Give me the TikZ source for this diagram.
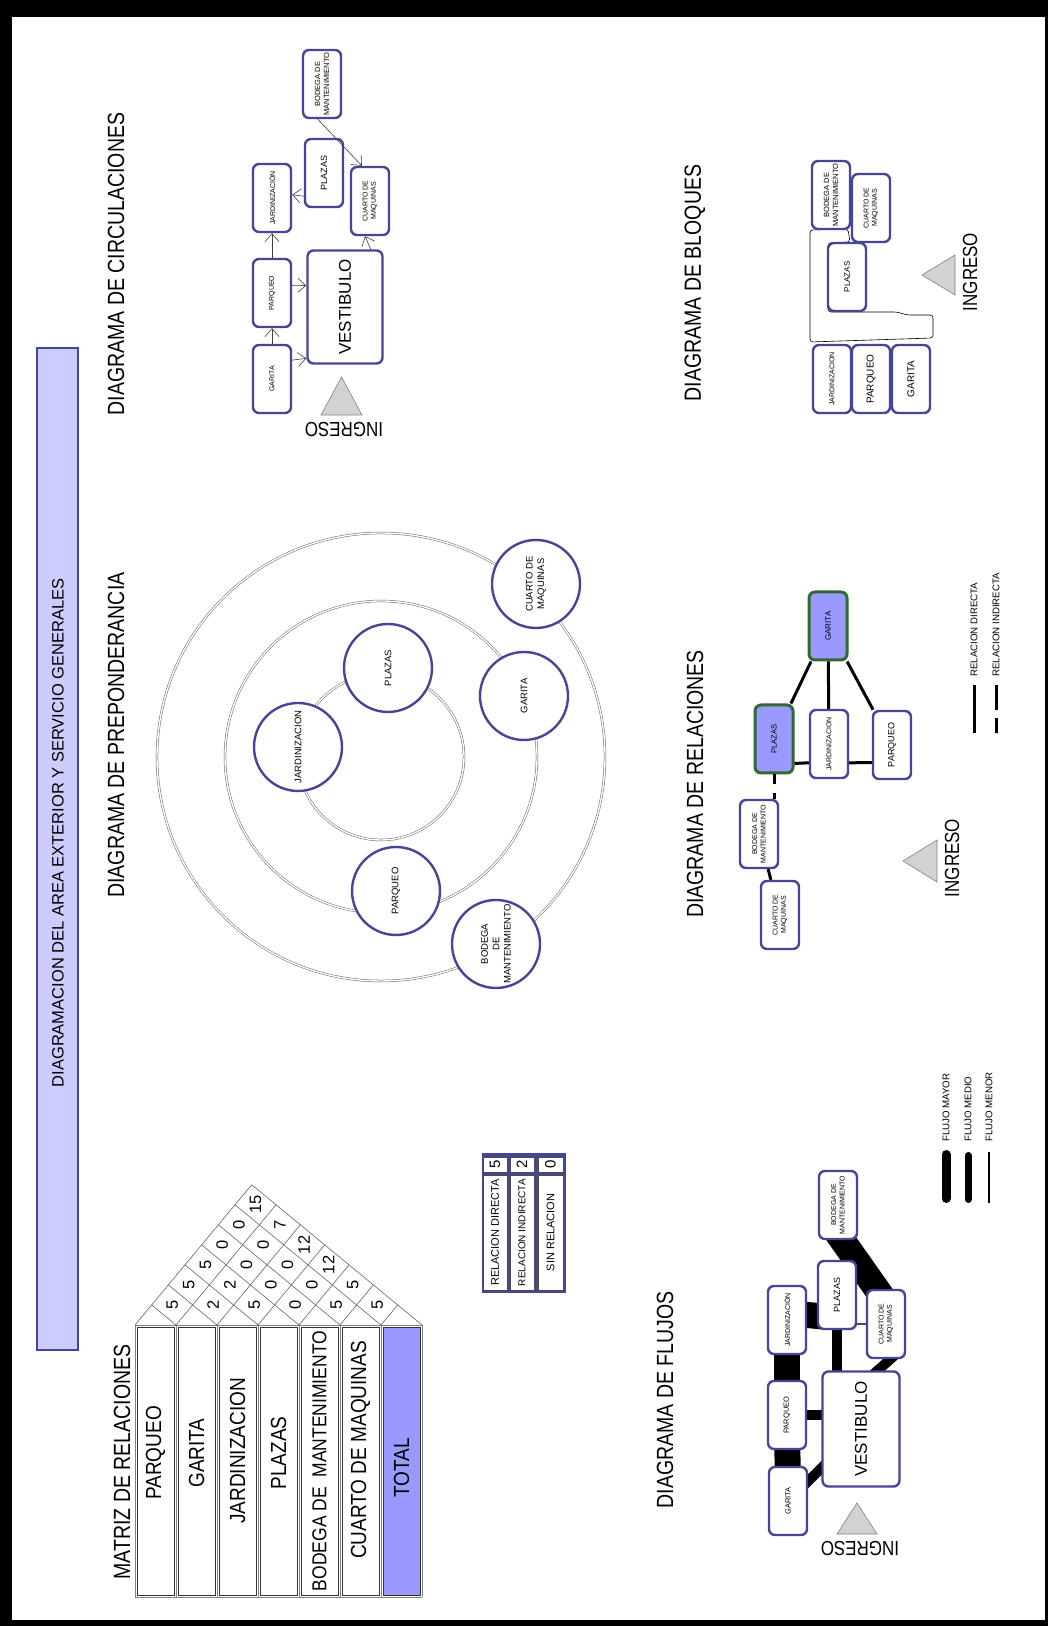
\documentclass[tikz,border=0pt]{standalone}
\usepackage{fontspec}
\setmainfont{Liberation Sans}
\usetikzlibrary{arrows.meta,calc}

\definecolor{azulnodo}{RGB}{70,70,150}
\definecolor{lavanda}{RGB}{204,204,255}
\definecolor{lila}{RGB}{153,153,255}
\definecolor{verde}{RGB}{50,105,50}
\definecolor{grisclaro}{RGB}{210,210,210}

\newcommand{\tam}[1]{\fontsize{#1}{1.2\dimexpr #1pt\relax}\selectfont}

\pgfdeclarelayer{fondo}
\pgfdeclarelayer{bandas}
\pgfsetlayers{fondo,bandas,main}

\begin{document}
\begin{tikzpicture}[x=1pt, y=1pt,
    caja/.style={rectangle, rounded corners=6pt, draw=azulnodo, line width=2.4pt, fill=white,
      minimum width=68, minimum height=38, inner sep=1pt, align=center, font=\tam{7}},
    llena/.style={caja, fill=lila, draw=verde, line width=3pt},
    circulo/.style={circle, draw=azulnodo, line width=2.4pt, fill=white, minimum size=88,
      inner sep=0pt, align=center, font=\tam{9.5}},
    anillo/.style={draw=gray!80!black, line width=0.5pt, double=white, double distance=1.4pt},
    encab/.style={font=\tam{19.5}, yscale=1.2},
    fila/.style={font=\tam{19}, yscale=1.15},
    num/.style={font=\tam{16.5}, inner sep=0pt},
    celda/.style={rectangle, draw=black!70, line width=0.4pt, fill=white, minimum height=24, inner sep=0pt},
    flecha/.style={draw=black!75, line width=0.6pt, -{Straight Barb[length=8pt,width=14pt]}},
    rel/.style={line width=3pt},
    relind/.style={line width=3pt, dash pattern=on 10pt off 9pt},
    mayor/.style={line width=26pt, shorten <=-12pt, shorten >=-12pt},
    medio/.style={line width=10pt, shorten <=-8pt, shorten >=-8pt},
    menor/.style={line width=1.2pt, draw=black!70},
    ingreso/.style={fill=grisclaro, draw=gray, line width=0.6pt},
    rejilla/.style={draw=black!60, line width=0.6pt},
    leyenda/.style={font=\tam{9.7}, anchor=west, inner sep=0pt}
  ]
\useasboundingbox (0,0) rectangle (1048,1626);
% marco
\begin{pgfonlayer}{fondo}
  \fill[black] (0,0) rectangle (1048,1626);
  \fill[white] (12,6) rectangle (1045,1609);
\end{pgfonlayer}

% la lamina va girada
\begin{scope}[shift={(1048,0)}, rotate=90, transform shape]

% Titulo
\node[draw=azulnodo, line width=2.5pt, fill=lavanda, minimum width=1002, minimum height=41] (barra) at (777,990.5) {};
\node[font=\tam{16.5}] (titulo) at (793,990) {DIAGRAMACION DEL AREA EXTERIOR Y SERVICIO GENERALES};

\node[encab] (hMatriz) at (164,926) {MATRIZ DE RELACIONES};
\node[encab] (hPrep) at (891,932) {DIAGRAMA DE PREPONDERANCIA};
\node[encab] (hCirc) at (1362,932) {DIAGRAMA DE CIRCULACIONES};
\node[encab] (hFlujo) at (226,383) {DIAGRAMA DE FLUJOS};
\node[encab] (hRel) at (842,353) {DIAGRAMA DE RELACIONES};
\node[encab] (hBloq) at (1343,353) {DIAGRAMA DE BLOQUES};

% Matriz de relaciones
\foreach \b in {0,...,7}
  \draw[gray] (29,{913-41*\b}) -- (301,{913-41*\b});
\draw[gray] (29,626) -- (29,913) (301,626) -- (301,913);
\foreach \b in {0,...,6}
  \draw[black!80, line width=0.5pt] (31,{913-41*\b-2}) rectangle (299,{913-41*(\b+1)+2});
\filldraw[fill=lila, draw=black!80, line width=0.5pt] (31,628) rectangle (299,665);
\node[fila] (mPar) at (173,892.5) {PARQUEO};
\node[fila] (mGar) at (173,851.5) {GARITA};
\node[fila] (mJar) at (175,810.5) {JARDINIZACION};
\node[fila] (mPla) at (173,769.5) {PLAZAS};
\node[fila, font=\tam{17.5}] (mBod) at (165,728.5) {BODEGA DE\ \ MANTENIMIENTO};
\node[fila] (mCua) at (176,687.5) {CUARTO DE MAQUINAS};
\node[fila] (mTot) at (158,646.5) {TOTAL};

\foreach \b in {0,...,7}{
  \pgfmathsetmacro{\yb}{913-41*\b}
  \pgfmathsetmacro{\tu}{(\yb-626)/2.046}
  \pgfmathsetmacro{\tl}{(913-\yb)/2.046}
  \draw[rejilla] (301,\yb) -- ++({\tu},{-0.832*\tu});
  \draw[rejilla] (301,\yb) -- ++({\tl},{1.214*\tl});
}
\foreach \i/\j/\v in {0/1/5,1/2/2,2/3/5,3/4/0,4/5/5,5/6/5,
                      0/2/5,1/3/2,2/4/0,3/5/0,4/6/5,
                      0/3/5,1/4/0,2/5/0,3/6/12,
                      0/4/0,1/5/0,2/6/12,
                      0/5/0,1/6/7,
                      0/6/15}
  \node[num] (v\i\j) at ({301+20.04*(\j-\i)},{892.5-41*\i-16.68*(\j-\i)}) {\v};

% valores
\fill[azulnodo] (333,482) rectangle (473,566);
\node[celda, minimum width=115, font=\tam{11}] (lDir) at (393.5,553) {RELACION DIRECTA};
\node[celda, minimum width=115, font=\tam{10}] (lInd) at (393.5,526) {RELACION INDIRECTA};
\node[celda, minimum width=115, minimum height=25, font=\tam{11}] (lSin) at (393.5,497.5) {SIN RELACION};
\node[celda, minimum width=15, font=\tam{15}] (lv1) at (461.5,553) {5};
\node[celda, minimum width=15, font=\tam{15}] (lv2) at (461.5,526) {2};
\node[celda, minimum width=15, minimum height=25, font=\tam{15}] (lv3) at (461.5,497.5) {0};

% Diagrama de preponderancia
\foreach \r in {224,156,83}
  \draw[anillo] (869,667) circle[radius=\r pt];
\node[circulo] (jarP) at (879,750) {JARDINIZACION};
\node[circulo] (plaP) at (958,660) {PLAZAS};
\node[circulo] (garP) at (930,524) {GARITA};
\node[circulo] (cuaP) at (1042,512) {CUARTO DE\\MAQUINAS};
\node[circulo] (parP) at (735,652) {PARQUEO};
\node[circulo] (bodP) at (682,552) {BODEGA\\DE\\MANTENIMIENTO};

% Diagrama de circulaciones
\node[caja] (garC) at (1247,776) {GARITA};
\node[caja] (parC) at (1333,776) {PARQUEO};
\node[caja] (jarC) at (1428,776) {JARDINIZACIÓN};
\node[caja, font=\tam{9}] (plaC) at (1453,724) {PLAZAS};
\node[caja, font=\tam{7.5}] (bodC) at (1542,726) {BODEGA DE\\MANTENIMIENTO};
\node[caja] (cuaC) at (1425,678) {CUARTO DE\\MAQUINAS};
\node[caja, minimum width=113, minimum height=75, font=\tam{17}] (vesC) at (1319,703) {VESTIBULO};
\draw[flecha] (garC) -- (parC);
\draw[flecha] (parC) -- (jarC);
\draw[flecha] (plaC.139) -- (jarC.-81);
\draw[flecha] (garC.-47) -- (vesC.143);
\draw[flecha] (parC.-69) -- (vesC.61);
\draw[flecha] (bodC.173) -- (cuaC.13);
\draw[flecha] (vesC.-24) -- (cuaC.172);
\filldraw[ingreso] (1211,686) -- (1211,727) -- (1249,706.5) -- cycle;
\node[font=\tam{17}, rotate=90, yscale=1.2] (ingC) at (1196,704) {INGRESO};

% Diagrama de bloques
\draw[line width=0.6pt, rounded corners=3pt] (1284,238) -- (1396,238) -- (1397,200) -- (1384,198)
  -- (1383,220) -- (1314,220) -- (1314,151) -- (1311,141) -- (1311,115) -- (1288,115) -- cycle;
\node[caja, font=\tam{7.5}] (bodB) at (1431,217) {BODEGA DE\\MANTENIMIENTO};
\node[caja] (cuaB) at (1418,177) {CUARTO DE\\MAQUINAS};
\node[caja, font=\tam{8}] (plaB) at (1349,201) {PLAZAS};
\node[caja] (jarB) at (1247,216) {JARDINIZACION};
\node[caja, font=\tam{10}] (parB) at (1247,177) {PARQUEO};
\node[caja, font=\tam{10}] (garB) at (1247,137) {GARITA};
\filldraw[ingreso] (1331,93) -- (1371,93) -- (1351,126) -- cycle;
\node[font=\tam{17}, yscale=1.2] (ingB) at (1354,78) {INGRESO};

% Diagrama de relaciones
\node[llena, font=\tam{8}] (garR) at (1000,220) {GARITA};
\node[llena, font=\tam{7.5}] (plaR) at (887,274) {PLAZAS};
\node[caja] (jarR) at (882,219) {JARDINIZACION};
\node[caja, font=\tam{9}] (parR) at (881,156) {PARQUEO};
\node[caja] (bodR) at (792,289) {BODEGA DE\\MANTENIMIENTO};
\node[caja] (cuaR) at (711,268) {CUARTO DE\\MAQUINAS};
\draw[rel] (garR) -- (plaR);
\draw[rel] (garR) -- (jarR);
\draw[rel] (garR) -- (parR);
\draw[rel] (plaR.-140) -- (jarR.133);
\draw[rel] (jarR.-133) -- (parR.131);
\draw[relind] (plaR.west) -- (plaR.west -| bodR.east);
\draw[rel] (bodR) -- (cuaR);
\filldraw[ingreso] (744,111) -- (786,111) -- (765,145) -- cycle;
\node[font=\tam{17}, yscale=1.2] (ingR) at (768,96) {INGRESO};
\node[leyenda] (leyDir) at (949,74) {RELACION DIRECTA};
\node[leyenda] (leyInd) at (949,52) {RELACION INDIRECTA};
\draw[rel] (leyDir.west) ++(-8,0) -- ++(-48,0);
\draw[rel, dash pattern=on 25pt off 8pt on 15pt off 0pt] (leyInd.west) ++(-8,0) -- ++(-48,0);

% Diagrama de flujos
\node[caja] (bodF) at (421,210) {BODEGA DE\\MANTENIMIENTO};
\node[caja, font=\tam{9}] (plaF) at (331,211) {PLAZAS};
\node[caja] (jarF) at (306,261) {JARDINIZACIÓN};
\node[caja] (cuaF) at (302,162) {CUARTO DE\\MAQUINAS};
\node[caja, font=\tam{7.5}] (parF) at (211,261) {PARQUEO};
\node[caja, minimum width=115, minimum height=77, font=\tam{17}] (vesF) at (197,187) {VESTIBULO};
\node[caja, font=\tam{7.5}] (garF) at (125,260) {GARITA};
\begin{pgfonlayer}{bandas}
  \draw[mayor] (garF) -- (parF);
  \draw[mayor] (parF) -- (jarF);
  \draw[mayor] (jarF.-76) -- (plaF.136);
  \draw[mayor] (bodF.187) -- (cuaF.15);
  \draw[medio] (plaF.west) -- (vesF.east |- plaF.west);
  \draw[medio] (parF.south) -- (vesF.north -| parF.south);
  \draw[medio] (garF) -- (vesF);
  \draw[medio] (vesF.-16) -- (cuaF.-173);
  \draw[menor] (cuaF.north) -- (cuaF.north |- plaF.south);
\end{pgfonlayer}
\filldraw[ingreso] (92,171) -- (92,211) -- (123,191) -- cycle;
\node[font=\tam{17}, rotate=90, yscale=1.2] (ingF) at (77,188) {INGRESO};
\node[leyenda] (leyMay) at (484,102) {FLUJO MAYOR};
\node[leyenda] (leyMed) at (484,80) {FLUJO MEDIO};
\node[leyenda] (leyMen) at (484,59) {FLUJO MENOR};
\draw[line width=9pt, line cap=round] (leyMay.west) ++(-12.5,0) -- ++(-44,0);
\draw[line width=7pt, line cap=round] (leyMed.west) ++(-13.5,0) -- ++(-44,0);
\draw[line width=1.5pt] (leyMen.west) ++(-10,0) -- ++(-51,0);

\end{scope}
\end{tikzpicture}
\end{document}
